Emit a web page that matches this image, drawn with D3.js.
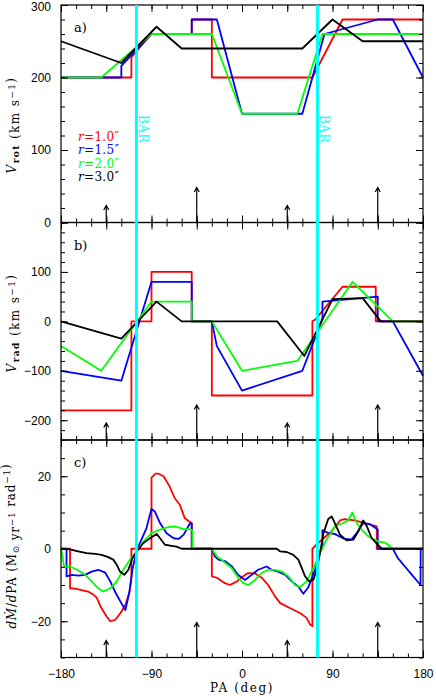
<!DOCTYPE html>
<meta charset="utf-8">
<style>
body { margin: 0; background: #fff; }
text { font-family: "Liberation Sans", Arial, sans-serif; font-size: 12px; }
.lbl { font-family: "DejaVu Serif", serif; }
</style>
<script src="https://cdn.jsdelivr.net/npm/d3@7"></script>
<svg id="chart" width="436" height="696"></svg>
<script>

// position angle of the bar and of the arrows (deg)
var barPA = [-105, 75];
var arrowPA = [-135, -45, 45, 135];

var radii = ["1.0", "1.5", "2.0", "3.0"];
var colors = ["#ff0000", "#0000ff", "#00ff00", "#000000"];

// a) rotation velocity, [PA, km/s]
var vrotR10 = [[-180,200],[-110,200],[-110,228],[-90,260],[-50,260],[-50,280],[-30,280],[-30,200],[70,200],[100,280],[180,280]];
var vrotR15 = [[-180,200],[-120,200],[-120,216],[-90,260],[-50,260],[-50,280],[-25,280],[0,150],[60,150],[82,260],[135,280],[150,280],[180,200]];
var vrotR20 = [[-180,200],[-140,200],[-90,260],[-30,260],[0,150],[55,150],[80,260],[180,260]];
var vrotR30 = [[-180,250],[-120,220],[-85,270],[-60,240],[60,240],[90,280],[120,250],[180,250]];

// b) radial velocity, [PA, km/s]
var vradR10 = [[-180,-180],[-110,-180],[-110,0],[-90,0],[-90,100],[-50,100],[-50,0],[-30,0],[-30,-150],[70,-150],[70,0],[73,4],[100,70],[133,70],[133,0],[180,0]];
var vradR15 = [[-180,-100],[-120,-120],[-90,80],[-50,80],[-50,0],[-30,0],[-25,-50],[0,-140],[60,-100],[80,5],[80,40],[135,50],[135,0],[150,0],[180,-110]];
var vradR20 = [[-180,-50],[-140,-100],[-90,40],[-50,40],[-50,0],[-30,0],[0,-100],[55,-80],[110,80],[150,0],[180,0]];
var vradR30 = [[-180,0],[-120,-35],[-85,40],[-60,0],[35,0],[62,-70],[90,45],[120,47],[138,0],[180,0]];

// c) mass inflow rate per PA, [PA, Msun/yr/rad]
var mdotR10 = [[-180,0],[-171,0],[-171,-10.9],[-166,-11],[-153,-11.8],[-148,-12.6],[-144.5,-13.5],[-140,-16.3],[-134.6,-18.7],[-131,-20],[-126,-19.6],[-121,-17.8],[-116,-15.5],[-112,-12],[-110,-8],[-110,0],
  [-90,0],[-90,19.6],[-86,20.7],[-83,20.7],[-78,20],[-72,17.2],[-67,14],[-62,12.2],[-57,8.5],[-53,7.6],[-50,7.1],[-50,0],[-30,0],[-30,-7.6],[-25,-8],[-17,-9.5],[-12,-10],[-5,-9],[0,-7.8],[6,-6.7],[13,-6.8],
  [20,-8.1],[26,-10],[33,-13.2],[38,-15],[48,-16.4],[58,-17.8],[64,-19],[68,-21],[70,-21.3],[70,0],[74,1.1],[81,2.9],[89,4.8],[97.5,7.8],[102,8.2],[112,7.8],[122,7.1],[134,6.2],[134,0],[180,0]];
var mdotR15 = [[-180,0],[-174.5,0],[-174.5,-7.6],[-169,-7.2],[-163,-7.4],[-156,-7.2],[-149.5,-6.3],[-143,-5.8],[-136,-6.6],[-131,-9],[-126,-12],[-121,-14.5],[-116,-16.9],[-112,-12],[-109,-5.8],[-105,-0.7],
  [-100,2.5],[-95,5.7],[-90,11],[-86.5,10.2],[-81.5,7.1],[-75,4.3],[-68,2.9],[-63,2.7],[-58,3.9],[-52,6.9],[-50,7],[-50,0],[-30,0],[-27,-2.1],[-23.5,-3],[-17,-3.4],[-10,-4.9],[-4,-7.2],[3,-8.6],[9.6,-7.2],
  [16,-5.8],[24.5,-4.9],[29.5,-5.8],[36,-6.3],[43,-7.2],[49.4,-9],[56,-10.4],[61,-12.4],[66,-10.6],[72.6,-5.8],[78,-0.5],[80,0.8],[80,5.1],[86,4.3],[92,4.1],[102,2.7],[109,2.6],[114,4.3],[120.6,7.1],
  [127,6.8],[135,5.3],[135,0],[150,0],[155,-2.6],[162,-4.9],[169,-7.2],[177.5,-10],[177.7,0],[180,0]];
var mdotR20 = [[-180,0],[-177,-4.8],[-171,-4.9],[-164,-5.8],[-156,-7.2],[-149.5,-9],[-143,-10.9],[-138,-11.8],[-131,-10.9],[-124.6,-9],[-118,-5.8],[-111.4,-3],[-104.7,-0.7],[-98,2],[-90,4.3],[-81.5,5.3],
  [-73,6],[-66.6,6.2],[-58.4,5.4],[-51.7,5.4],[-49.4,5],[-49.4,0],[-30,0],[-25,-2.1],[-18.6,-3.4],[-10.3,-5.3],[-3.6,-8],[1.3,-9.5],[6.3,-10],[13,-8.6],[19.6,-6.7],[26,-5.8],[33,-5.8],[39.5,-6.3],[46,-7.6],
  [52.7,-10],[57.7,-10.6],[64.3,-9],[71,-5.3],[77.6,-1.2],[84,2.5],[92.5,6.2],[100.7,7.1],[105.7,7.8],[109.7,10],[114,7.1],[119,5.3],[125.6,3.4],[135.5,2],[142,1.7],[150.5,0],[180,0]];
var mdotR30 = [[-180,0],[-171,-0.2],[-163,-0.7],[-154.5,-1.2],[-146,-1.4],[-139.6,-1.7],[-133,-2.3],[-128,-3],[-124.6,-4.4],[-121.3,-6.3],[-117,-7.2],[-113,-5.8],[-109,-2.6],[-104.7,-0.7],[-98,1.6],[-91.5,2.9],
  [-84.8,4.1],[-81.5,2.9],[-76.6,1.1],[-70,0.8],[-65,0.6],[-60,0],[34.5,0],[37.8,-0.7],[44.4,-0.9],[51,-1.7],[56,-3],[59.4,-5.3],[62.7,-7.6],[66.6,-9],[70.9,-8.6],[74.3,-5.8],[77.6,-1.2],[81,4.3],[85.8,8.2],
  [89.2,8.9],[92.5,6.9],[97.5,3.9],[104,2.3],[110.7,2.5],[115.7,4.8],[120.6,7.8],[124,6.3],[129,2.9],[134,1.4],[139,0],[180,0]];

var svg = d3.select("#chart");
var left = 61, right = 423, panelH = 217.5;

var x = d3.scaleLinear().domain([-180, 180]).range([left, right]);

var panels = [
  { top: 5,     domain: [0, 300],    major: 100, minor: 20, labels: [0, 100, 200, 300],   tag: "a)", series: [vrotR10, vrotR15, vrotR20, vrotR30] },
  { top: 222.5, domain: [-240, 200], major: 100, minor: 20, labels: [-200, -100, 0, 100], tag: "b)", series: [vradR10, vradR15, vradR20, vradR30] },
  { top: 440,   domain: [-30, 30],   major: 20,  minor: 5,  labels: [-20, 0, 20],         tag: "c)", series: [mdotR10, mdotR15, mdotR20, mdotR30] }
];

var fmt = d3.format("d");

panels.forEach(function(p, i) {
  var bottom = p.top + panelH;
  var y = d3.scaleLinear().domain(p.domain).range([bottom, p.top]);
  var g = svg.append("g");

  var line = d3.line()
      .x(function(d) { return x(d[0]); })
      .y(function(d) { return y(d[1]); });

  g.selectAll("path.series")
      .data(p.series)
    .enter().append("path")
      .attr("class", "series")
      .attr("d", line)
      .attr("fill", "none")
      .attr("stroke", function(d, k) { return colors[k]; })
      .attr("stroke-width", 1.8)
      .attr("stroke-linejoin", "round");

  // arrows up from the bottom of every panel
  arrowPA.forEach(function(a, k) {
    var len = k % 2 ? 35 : 17;
    var ax = x(a), tip = bottom - len;
    g.append("path")
        .attr("d", "M" + ax + "," + bottom + "V" + tip +
                   "M" + (ax - 2.5) + "," + (tip + 4.5) + "L" + ax + "," + tip + "L" + (ax + 2.5) + "," + (tip + 4.5))
        .attr("fill", "none")
        .attr("stroke", "#000")
        .attr("stroke-width", 1.2);
  });

  var yMajor = d3.range(Math.ceil(p.domain[0] / p.major) * p.major, p.domain[1] + 0.01, p.major);
  var yMinor = d3.range(Math.ceil(p.domain[0] / p.minor) * p.minor, p.domain[1] + 0.01, p.minor);
  var xMajor = d3.range(-180, 181, 45);
  var xMinor = d3.range(-180, 181, 15);

  function labelY(d) { return p.labels.indexOf(d) >= 0 ? fmt(d) : ""; }
  function labelX(d) { return (i == 2 && d % 90 == 0) ? fmt(d) : ""; }

  var axes = [
    [d3.axisLeft(y).tickValues(yMinor).tickSize(-4).tickFormat(""), left, 0],
    [d3.axisLeft(y).tickValues(yMajor).tickSize(-7).tickPadding(10).tickFormat(labelY), left, 0],
    [d3.axisRight(y).tickValues(yMinor).tickSize(-4).tickFormat(""), right, 0],
    [d3.axisRight(y).tickValues(yMajor).tickSize(-7).tickFormat(""), right, 0],
    [d3.axisTop(x).tickValues(xMinor).tickSize(-4).tickFormat(""), 0, p.top],
    [d3.axisTop(x).tickValues(xMajor).tickSize(-7).tickFormat(""), 0, p.top],
    [d3.axisBottom(x).tickValues(xMinor).tickSize(-4).tickFormat(""), 0, bottom],
    [d3.axisBottom(x).tickValues(xMajor).tickSize(-7).tickPadding(12).tickFormat(labelX), 0, bottom]
  ];
  axes.forEach(function(a) {
    var ag = svg.append("g")
        .attr("transform", "translate(" + a[1] + "," + a[2] + ")")
        .call(a[0]);
    ag.select(".domain").remove();
    ag.selectAll("text").attr("font-family", null).attr("font-size", null).attr("fill", "#000");
    ag.selectAll("line").attr("stroke", "#000");
  });

  svg.append("rect")
      .attr("x", left).attr("y", p.top)
      .attr("width", right - left).attr("height", panelH)
      .attr("fill", "none")
      .attr("stroke", "#000")
      .attr("stroke-width", 1.2);

  svg.append("text")
      .attr("class", "lbl")
      .attr("x", 74).attr("y", p.top + 27)
      .style("font-size", "13px")
      .text(p.tag);
});

// keep the top label inside the page
svg.selectAll("g text").filter(function() { return this.textContent == "300"; }).attr("dy", "0.45em");

// bar position
barPA.forEach(function(b) {
  svg.append("line")
      .attr("x1", x(b)).attr("x2", x(b))
      .attr("y1", panels[0].top).attr("y2", panels[2].top + panelH)
      .attr("stroke", "#00ffff")
      .attr("stroke-width", 3);
  svg.append("text")
      .attr("class", "lbl")
      .attr("transform", "translate(" + (x(b) + 3) + ",115) rotate(90)")
      .attr("fill", "#00ffff")
      .style("font-size", "12px")
      .style("letter-spacing", "0.5px")
      .text("BAR");
});

// legend
radii.forEach(function(r, k) {
  var t = svg.append("text")
      .attr("class", "lbl")
      .attr("x", 78).attr("y", 141 + k * 13.4)
      .attr("fill", colors[k])
      .style("font-size", "12px")
      .style("letter-spacing", "0.3px");
  t.append("tspan").style("font-style", "italic").text("r");
  t.append("tspan").text("=" + r + "\u2033");
});

// y axis titles
function yTitle(cy, spacing) {
  return svg.append("text")
      .attr("class", "lbl")
      .attr("transform", "translate(16," + cy + ") rotate(-90)")
      .attr("text-anchor", "middle")
      .style("font-size", "12px")
      .style("letter-spacing", spacing + "px");
}
function sub(t, s, bold) {
  t.append("tspan").attr("dy", 3).style("font-size", "9px").style("font-weight", bold ? "bold" : null).text(s);
  t.append("tspan").attr("dy", -3).text("");
}
function sup(t, s) {
  t.append("tspan").attr("dy", -4.5).style("font-size", "9px").text(s);
  t.append("tspan").attr("dy", 4.5).text("");
}

var ta = yTitle(125, 1.4);
ta.append("tspan").style("font-style", "italic").text("V");
sub(ta, "rot", true);
ta.append("tspan").text(" (km s");
sup(ta, "\u22121");
ta.append("tspan").text(")");

var tb = yTitle(323, 1.4);
tb.append("tspan").style("font-style", "italic").text("V");
sub(tb, "rad", true);
tb.append("tspan").text(" (km s");
sup(tb, "\u22121");
tb.append("tspan").text(")");

var tc = yTitle(546, 0.8);
tc.append("tspan").style("font-style", "italic").text("d\u1E40");
tc.append("tspan").text("/");
tc.append("tspan").style("font-style", "italic").text("d");
tc.append("tspan").text("PA (M");
sub(tc, "\u2299");
tc.append("tspan").text(" yr");
sup(tc, "\u22121");
tc.append("tspan").text(" rad");
sup(tc, "\u22121");
tc.append("tspan").text(")");

svg.append("text")
    .attr("class", "lbl")
    .attr("x", x(0)).attr("y", 692)
    .attr("text-anchor", "middle")
    .style("font-size", "12px")
    .style("letter-spacing", "1.6px")
    .text("PA (deg)");

</script>
